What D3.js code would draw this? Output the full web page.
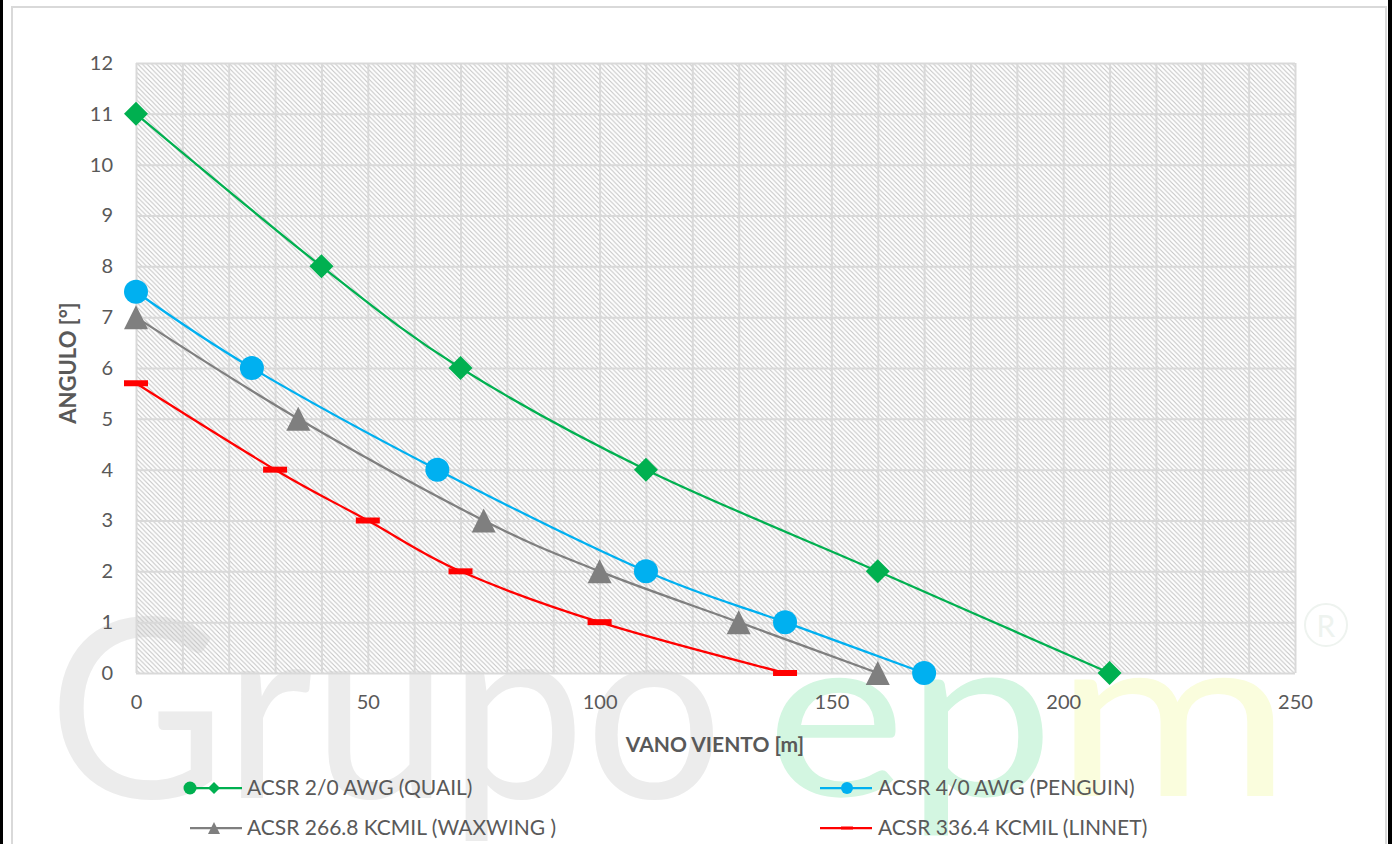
<!DOCTYPE html>
<html>
<head>
<meta charset="utf-8">
<script src="https://cdn.jsdelivr.net/npm/d3@7"></script>
<style>
  body { margin: 0; background: #fff; }
  svg text { font-family: Lato, "Open Sans", sans-serif; }
</style>
</head>
<body>
<svg id="chart"></svg>
<script>
// ACSR conductors: angulo vs vano viento
var quailX = [0, 40, 70, 110, 160, 210];
var quailY = [11, 8, 6, 4, 2, 0];
var penguinX = [0, 25, 65, 110, 140, 170];
var penguinY = [7.5, 6, 4, 2, 1, 0];
var waxwingX = [0, 35, 75, 100, 130, 160];
var waxwingY = [7, 5, 3, 2, 1, 0];
var linnetX = [0, 30, 50, 70, 100, 140];
var linnetY = [5.7, 4, 3, 2, 1, 0];

var seriesNames = ['ACSR 2/0 AWG (QUAIL)', 'ACSR 4/0 AWG (PENGUIN)', 'ACSR 266.8 KCMIL (WAXWING )', 'ACSR 336.4 KCMIL (LINNET)'];
var xTicks = [0, 50, 100, 150, 200, 250];
var yTicks = [0, 1, 2, 3, 4, 5, 6, 7, 8, 9, 10, 11, 12];

var svgWidth = 1392, svgHeight = 844;
var plotLeft = 136, plotRight = 1295, plotTop = 63, plotBottom = 673;

var svg = d3.select('#chart')
  .attr('width', svgWidth)
  .attr('height', svgHeight);

// hatch pattern for the plot area
var defs = svg.append('defs');
var pat = defs.append('pattern')
  .attr('id', 'hatch')
  .attr('patternUnits', 'userSpaceOnUse')
  .attr('width', 4.6)
  .attr('height', 4.6);
pat.append('path')
  .attr('d', 'M-1,-1 L5.6,5.6 M-1,3.6 L1,5.6 M3.6,-1 L5.6,1')
  .attr('stroke', '#c4c4c4')
  .attr('stroke-width', 1.1);

// watermark
var wm = svg.append('g').attr('class', 'watermark');
wm.append('text')
  .attr('x', 48).attr('y', 798)
  .attr('font-size', 250)
  .attr('textLength', 675).attr('lengthAdjust', 'spacingAndGlyphs')
  .attr('fill', '#ececec')
  .text('Grupo');
wm.append('text')
  .attr('x', 766).attr('y', 796)
  .attr('font-size', 230)
  .attr('textLength', 288).attr('lengthAdjust', 'spacingAndGlyphs')
  .attr('fill', '#d3f6e1')
  .text('ep');
wm.append('text')
  .attr('x', 1054).attr('y', 796)
  .attr('font-size', 230)
  .attr('textLength', 238).attr('lengthAdjust', 'spacingAndGlyphs')
  .attr('fill', '#fafddd')
  .text('m');
wm.append('circle')
  .attr('cx', 1326).attr('cy', 625).attr('r', 21)
  .attr('fill', 'none').attr('stroke', '#eef3ef').attr('stroke-width', 2);
wm.append('text')
  .attr('x', 1326).attr('y', 637).attr('text-anchor', 'middle')
  .attr('font-size', 30).attr('fill', '#eef3ef')
  .text('R');

// chart frame and screen edges
svg.append('rect')
  .attr('x', 12).attr('y', 7)
  .attr('width', 1374).attr('height', 850)
  .attr('fill', 'none').attr('stroke', '#d9d9d9').attr('stroke-width', 2);
svg.append('rect').attr('x', 0).attr('y', 0).attr('width', 3).attr('height', svgHeight).attr('fill', '#000');
svg.append('rect').attr('x', 1388).attr('y', 0).attr('width', 4).attr('height', svgHeight).attr('fill', '#000');

var xScale = d3.scaleLinear().domain([0, 250]).range([plotLeft, plotRight]);
var yScale = d3.scaleLinear().domain([0, 12]).range([plotBottom, plotTop]);

svg.append('rect')
  .attr('x', plotLeft).attr('y', plotTop)
  .attr('width', plotRight - plotLeft).attr('height', plotBottom - plotTop)
  .attr('fill', 'url(#hatch)');

// grid
svg.append('g')
  .attr('transform', 'translate(0,' + plotBottom + ')')
  .call(d3.axisBottom(xScale).tickValues(d3.range(0, 251, 10)).tickSize(-(plotBottom - plotTop)).tickFormat(''))
  .call(function(g) { g.select('.domain').remove(); })
  .selectAll('line').attr('stroke', '#d9d9d9').attr('stroke-width', 2);
svg.append('g')
  .attr('transform', 'translate(' + plotLeft + ',0)')
  .call(d3.axisLeft(yScale).tickValues(yTicks).tickSize(-(plotRight - plotLeft)).tickFormat(''))
  .call(function(g) { g.select('.domain').remove(); })
  .selectAll('line').attr('stroke', '#d9d9d9').attr('stroke-width', 2);

// tick labels
var xAxis = svg.append('g')
  .attr('transform', 'translate(0,' + plotBottom + ')')
  .call(d3.axisBottom(xScale).tickValues(xTicks).tickSize(0).tickPadding(22));
xAxis.select('.domain').remove();
xAxis.selectAll('text').attr('font-size', 20).attr('fill', '#595959')
  .style('font-family', 'Lato, sans-serif');

var yAxis = svg.append('g')
  .attr('transform', 'translate(' + plotLeft + ',0)')
  .call(d3.axisLeft(yScale).tickValues(yTicks).tickSize(0).tickPadding(23));
yAxis.select('.domain').remove();
yAxis.selectAll('text').attr('font-size', 20).attr('fill', '#595959')
  .style('font-family', 'Lato, sans-serif');

// axis titles
svg.append('text')
  .attr('x', 715).attr('y', 752)
  .attr('text-anchor', 'middle')
  .attr('font-size', 21).attr('font-weight', 'bold').attr('fill', '#595959')
  .text('VANO VIENTO [m]');
svg.append('text')
  .attr('transform', 'translate(76,363) rotate(-90)')
  .attr('text-anchor', 'middle')
  .attr('font-size', 22).attr('font-weight', 'bold').attr('fill', '#595959')
  .text('ANGULO [°]');

// series
var series = [
  { xs: quailX, ys: quailY, color: '#00b050', marker: 'diamond' },
  { xs: penguinX, ys: penguinY, color: '#00b0f0', marker: 'circle' },
  { xs: waxwingX, ys: waxwingY, color: '#7f7f7f', marker: 'triangle' },
  { xs: linnetX, ys: linnetY, color: '#ff0000', marker: 'dash' }
];

function markerPath(type, s) {
  // s = full marker width
  var h = s / 2;
  if (type === 'diamond') return 'M0,' + (-h) + 'L' + h + ',0L0,' + h + 'L' + (-h) + ',0Z';
  if (type === 'triangle') return 'M0,' + (-h) + 'L' + h + ',' + h + 'L' + (-h) + ',' + h + 'Z';
  if (type === 'dash') return 'M' + (-h) + ',' + (-s / 8) + 'H' + h + 'V' + (s / 8) + 'H' + (-h) + 'Z';
  return d3.symbol(d3.symbolCircle, Math.PI * h * h)();
}

var line = d3.line()
  .x(function(d) { return xScale(d[0]); })
  .y(function(d) { return yScale(d[1]); })
  .curve(d3.curveCardinal.tension(0));

series.forEach(function(s) {
  var pts = s.xs.map(function(x, i) { return [x, s.ys[i]]; });
  svg.append('path')
    .datum(pts)
    .attr('d', line)
    .attr('fill', 'none')
    .attr('stroke', s.color)
    .attr('stroke-width', 2.25);
  svg.selectAll(null)
    .data(pts)
    .enter()
    .append('path')
    .attr('d', markerPath(s.marker, 24))
    .attr('fill', s.color)
    .attr('transform', function(d) {
      return 'translate(' + xScale(d[0]) + ',' + yScale(d[1]) + ')';
    });
});

// legend
var legendPos = [[190, 788], [820, 788], [190, 828], [820, 828]];
series.forEach(function(s, i) {
  var p = legendPos[i];
  var g = svg.append('g').attr('transform', 'translate(' + p[0] + ',' + p[1] + ')');
  g.append('line').attr('x1', 0).attr('x2', 52).attr('y1', 0).attr('y2', 0)
    .attr('stroke', s.color).attr('stroke-width', 2.25);
  g.append('path').attr('d', markerPath(s.marker, 12)).attr('fill', s.color)
    .attr('transform', 'translate(' + (i % 2 === 0 ? 24 : 27) + ',0)');
  if (i === 0) {
    g.append('path').attr('d', markerPath('circle', 13)).attr('fill', s.color);
  }
  g.append('text')
    .attr('x', i % 2 === 0 ? 57 : 58).attr('y', 0).attr('dy', '0.35em')
    .attr('font-size', 21).attr('fill', '#595959')
    .text(seriesNames[i]);
});
</script>
</body>
</html>
